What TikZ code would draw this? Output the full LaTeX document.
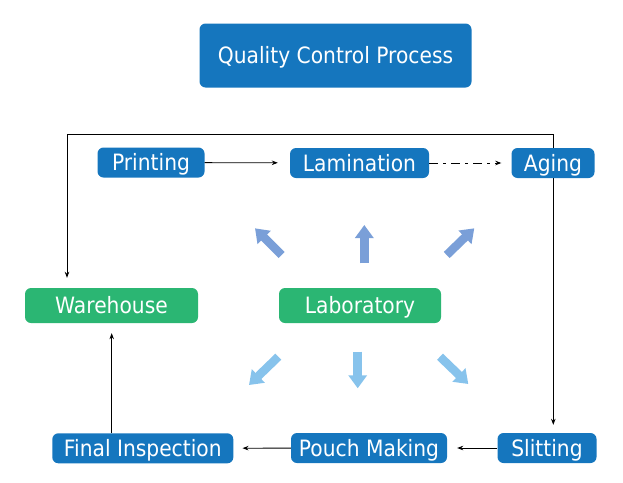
\documentclass[tikz,border=0pt]{standalone}
\usepackage{fontspec}
\setmainfont{DejaVu Sans}[FakeStretch=0.9]
\usetikzlibrary{arrows.meta,backgrounds}
\definecolor{qblue}{RGB}{21,118,190}
\definecolor{qgreen}{RGB}{43,182,115}
\definecolor{arrowup}{RGB}{122,159,216}
\definecolor{arrowdown}{RGB}{135,195,236}
\begin{document}
\begin{tikzpicture}[x=1pt,y=-1pt,
  box/.style={rectangle,rounded corners=6pt,inner sep=0pt,text=white,
    font=\fontsize{22.5}{27}\selectfont,text height=16.4pt,text depth=0pt},
  bluebox/.style={box,fill=qblue},
  greenbox/.style={box,fill=qgreen},
  conn/.style={line width=0.8pt,-{Stealth[length=6pt,width=4.5pt]}},
  dashconn/.style={conn,dash pattern=on 9pt off 5pt on 3pt off 5pt},
  blockarrow/.style={line width=8.5pt,-{Triangle[length=13pt,width=18pt]}}]
\useasboundingbox (0,0) rectangle (623,482);

% nodes
\node[bluebox,minimum width=272pt,minimum height=64pt] (title) at (335.5,55.5) {Quality Control Process};
\node[bluebox,minimum width=107pt,minimum height=30pt] (print) at (151,162.5) {Printing};
\node[bluebox,minimum width=139pt,minimum height=30pt] (lam) at (359.5,163) {Lamination};
\node[bluebox,minimum width=83pt,minimum height=30pt] (aging) at (553,163) {Aging};
\node[greenbox,minimum width=173pt,minimum height=35pt] (wh) at (111.5,305.5) {Warehouse};
\node[greenbox,minimum width=162pt,minimum height=35pt] (lab) at (360,305.5) {Laboratory};
\node[bluebox,minimum width=181pt,minimum height=30pt] (final) at (142.8,448.3) {Final Inspection};
\node[bluebox,minimum width=156pt,minimum height=30pt] (pouch) at (369,448) {Pouch Making};
\node[bluebox,minimum width=99pt,minimum height=30pt] (slit) at (547,448) {Slitting};

% coordinates for loop lines
\coordinate (tr) at (553.3,134);
\coordinate (tl) at (67,134);
\coordinate (fx) at (111.7,400);

\begin{pgfonlayer}{background}
  \draw[conn,shorten >=10pt] (tr) -- (tl) -- (wh.north -| tl);
  \draw[conn,shorten >=8pt] (tr) -- (slit.north -| tr);
\end{pgfonlayer}

% connectors
\draw[conn,shorten >=12pt] (print) -- (lam);
\draw[dashconn,shorten >=10pt] (lam) -- (aging);
\draw[conn,shorten >=10pt] (slit) -- (pouch);
\draw[conn,shorten >=9pt] (pouch) -- (final);
\draw[conn,shorten >=10pt] (final.north -| fx) -- (wh.south -| fx);

% block arrows from the laboratory
\draw[blockarrow,arrowup] (281.7,255) -- (255,228.3);
\draw[blockarrow,arrowup] (364.3,263.3) -- (364.3,225);
\draw[blockarrow,arrowup] (446.7,255) -- (474.3,228.3);
\draw[blockarrow,arrowdown] (278.3,356.7) -- (249,385);
\draw[blockarrow,arrowdown] (357.7,351.7) -- (357.7,388.3);
\draw[blockarrow,arrowdown] (440,356.7) -- (468.3,384);
\end{tikzpicture}
\end{document}
